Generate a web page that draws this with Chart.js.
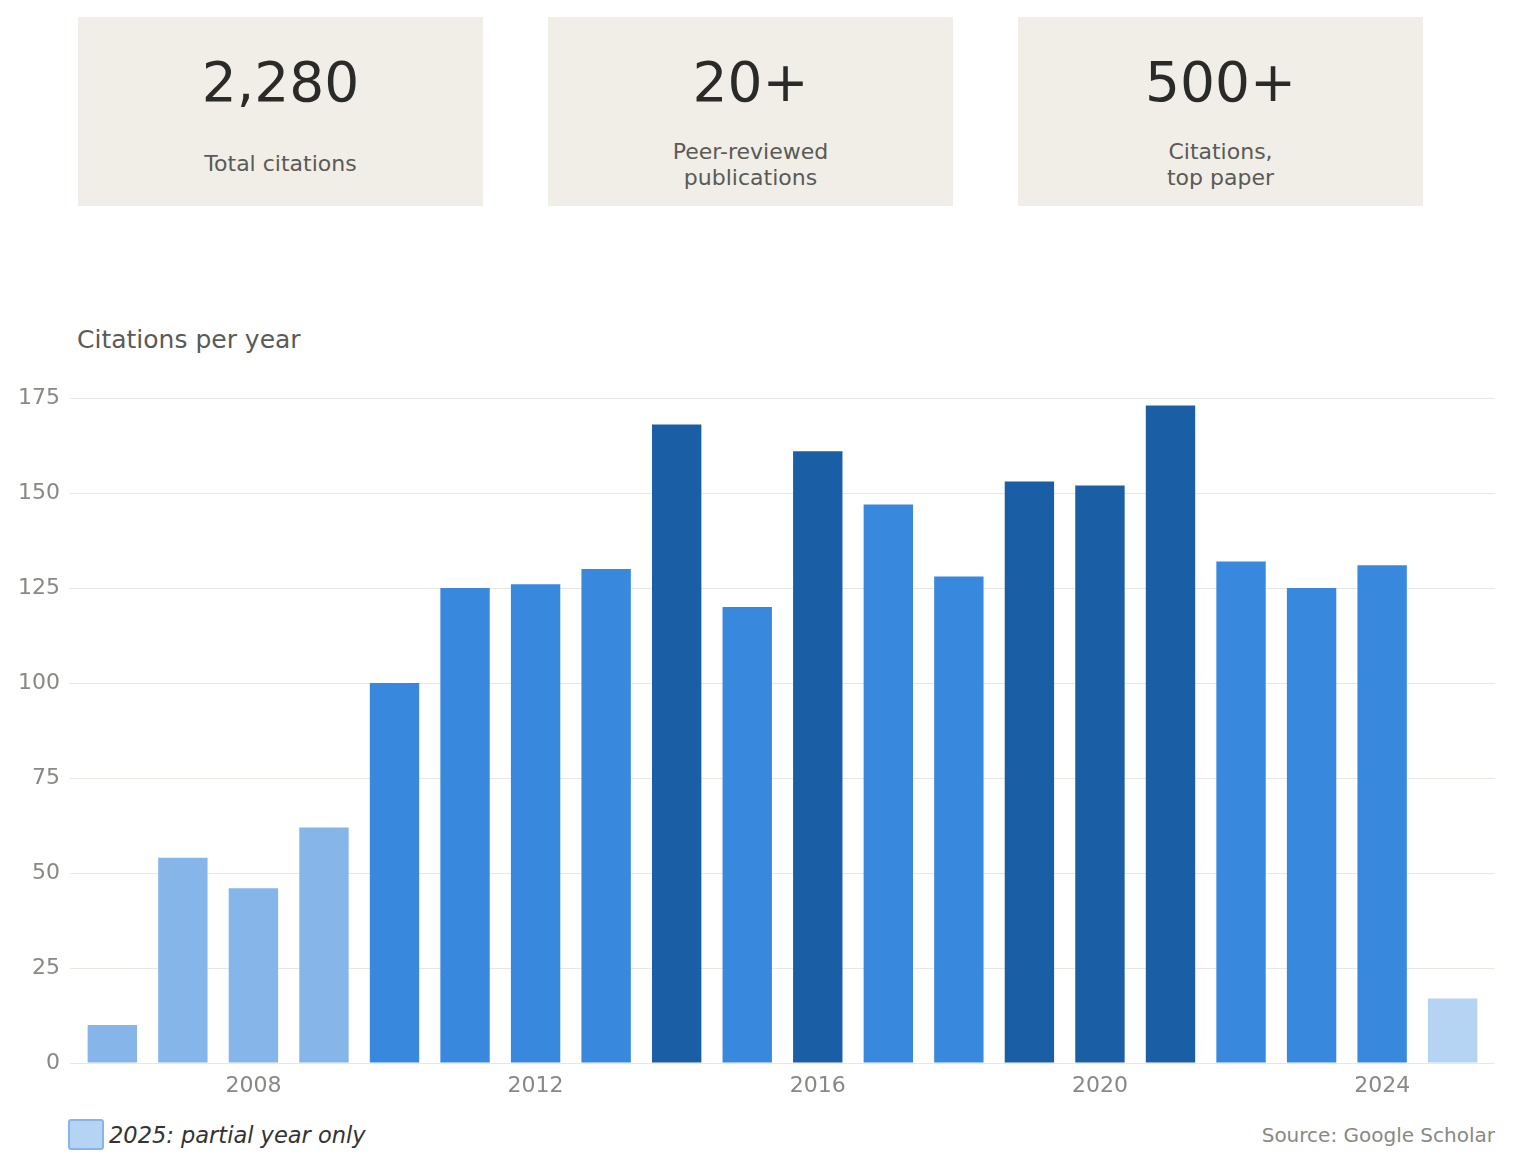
<!DOCTYPE html>
<html>
<head>
<meta charset="utf-8">
<script src="https://cdn.jsdelivr.net/npm/chart.js@4"></script>
<style>
  html, body { margin: 0; padding: 0; background: #ffffff; }
  body { width: 1513px; height: 1168px; position: relative; overflow: hidden; font-family: "DejaVu Sans", sans-serif; }
  .card { position: absolute; top: 17px; width: 405px; height: 189px; background: #f1eee7; text-align: center; }
  .card .num { position: absolute; left: 0; right: 0; top: 32px; font-size: 55px; line-height: 66px; color: #2a2a28; }
  .card .lbl { position: absolute; left: 0; right: 0; font-size: 22px; line-height: 26px; color: #5a5a56; }
  #title { position: absolute; left: 77px; top: 325px; font-size: 25px; line-height: 30px; color: #5a5a56; }
  #chartBox { position: absolute; left: 0; top: 370px; width: 1513px; height: 733px; }
  #legend { position: absolute; left: 68px; top: 1119px; display: flex; align-items: center; }
  #legend .sw { background: #b5d3f3; border: 2px solid #86b5ea; border-radius: 3px; box-sizing: border-box; width: 36px; height: 31px; }
  #legend .txt { margin-left: 5px; font-size: 22.5px; font-style: italic; color: #333333; }
  #source { position: absolute; right: 18px; top: 1123px; font-size: 20px; color: #888884; }
</style>
</head>
<body>
<div class="card" style="left:78px"><div class="num">2,280</div><div class="lbl" style="top:134px">Total citations</div></div>
<div class="card" style="left:548px"><div class="num">20+</div><div class="lbl" style="top:122px">Peer-reviewed<br>publications</div></div>
<div class="card" style="left:1018px"><div class="num">500+</div><div class="lbl" style="top:122px">Citations,<br>top paper</div></div>

<div id="title">Citations per year</div>
<div id="chartBox"><canvas id="c"></canvas></div>
<div id="legend"><div class="sw"></div><div class="txt">2025: partial year only</div></div>
<div id="source">Source: Google Scholar</div>

<script>
const years = [2006, 2007, 2008, 2009, 2010, 2011, 2012, 2013, 2014, 2015, 2016, 2017, 2018, 2019, 2020, 2021, 2022, 2023, 2024, 2025];
const citations = [10, 54, 46, 62, 100, 125, 126, 130, 168, 120, 161, 147, 128, 153, 152, 173, 132, 125, 131, 17];
const partialYear = 2025;
const xTickYears = [2008, 2012, 2016, 2020, 2024];
const yTicks = [0, 25, 50, 75, 100, 125, 150, 175];

const points = years.map((y, i) => ({ x: y, y: citations[i] }));

function barColor(ctx) {
  const p = ctx.raw;
  if (!p) return '#3889de';
  if (p.x === partialYear) return '#b5d3f3';
  if (p.y >= 150) return '#1a5ea6';
  if (p.y < 100) return '#86b5ea';
  return '#3889de';
}

new Chart(document.getElementById('c'), {
  type: 'bar',
  data: {
    datasets: [{
      data: points,
      backgroundColor: barColor,
      borderWidth: 0,
      barPercentage: 0.7,
      categoryPercentage: 1.0
    }]
  },
  options: {
    responsive: true,
    maintainAspectRatio: false,
    animation: false,
    layout: { padding: { top: 28, right: 18, bottom: 0, left: 0 } },
    plugins: { legend: { display: false }, tooltip: { enabled: false } },
    scales: {
      x: {
        type: 'linear',
        offset: false,
        min: 2005.4,
        max: 2025.6,
        afterBuildTicks: (s) => { s.ticks = xTickYears.map(v => ({ value: v })); },
        afterFit: (s) => { s.height = 40; },
        grid: { display: false, drawTicks: false, offset: false },
        border: { display: false },
        ticks: {
          padding: 10,
          color: '#888884',
          font: { family: 'DejaVu Sans', size: 22 },
          callback: (v) => String(v)
        }
      },
      y: {
        min: 0,
        max: 175,
        afterBuildTicks: (s) => { s.ticks = yTicks.map(v => ({ value: v })); },
        afterFit: (s) => { s.width = 70; },
        grid: { color: '#e9e7e1', lineWidth: 1, drawTicks: false },
        border: { display: false },
        ticks: {
          padding: 10,
          color: '#888884',
          font: { family: 'DejaVu Sans', size: 22 }
        }
      }
    }
  }
});
</script>
</body>
</html>
